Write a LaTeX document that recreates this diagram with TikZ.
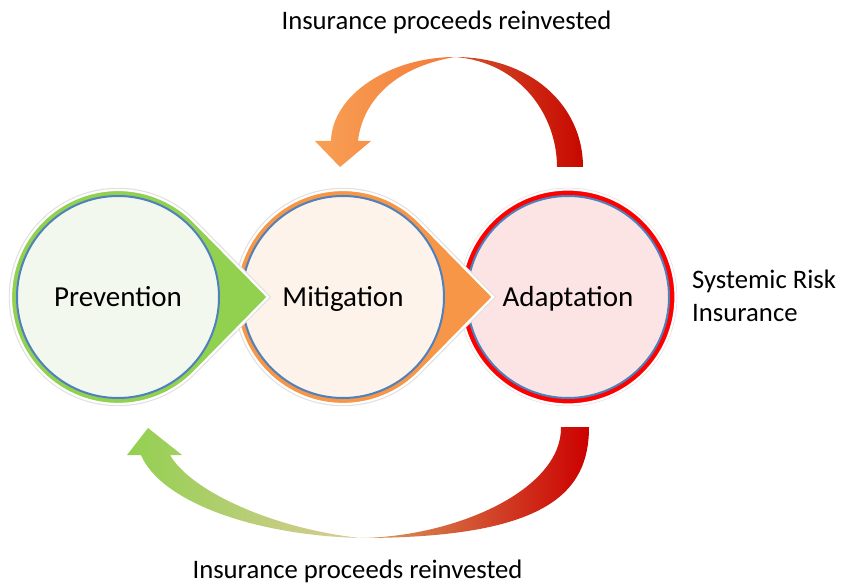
\documentclass[tikz,border=0pt]{standalone}
\usepackage{fontspec}
\setmainfont{Carlito}
\usetikzlibrary{calc}
\definecolor{cgreen}{HTML}{92D050}
\definecolor{corange}{HTML}{F79646}
\definecolor{cred}{HTML}{FF0000}
\definecolor{cblue}{HTML}{4F81BD}
\definecolor{fillP}{HTML}{F3F8EE}
\definecolor{fillM}{HTML}{FDF3EA}
\definecolor{fillA}{HTML}{FCE4E5}
\definecolor{topL}{HTML}{F8A055}
\definecolor{topM}{HTML}{F37A38}
\definecolor{topR1}{HTML}{D2522B}
\definecolor{topR2}{HTML}{C80800}
\definecolor{botL1}{HTML}{92D050}
\definecolor{botL2}{HTML}{B3D68A}
\definecolor{botL3}{HTML}{DCCB98}
\definecolor{botR1}{HTML}{D9A060}
\definecolor{botR2}{HTML}{C9552A}
\definecolor{botR3}{HTML}{CC0000}
\begin{document}
\begin{tikzpicture}[x=1pt,y=1pt,yscale=-1,
  stage/.style={circle, draw=cblue, line width=2pt, minimum size=202pt, inner sep=0pt,
    text height=19pt, text depth=0pt, font=\fontsize{29}{35}\selectfont},
  glow/.style={draw=black!12, line width=4.5pt},
  rim/.style={draw=white, line width=2.2pt},
  lbl/.style={anchor=base, inner sep=0pt, font=\fontsize{26.7}{32}\selectfont}]
\useasboundingbox[fill=white] (0,0) rectangle (841,585);

% top curved arrow
\shade[left color=topL, right color=topM]
  (455,57) .. controls (390,57) and (332,95) .. (331,141) -- (315,141) -- (340,167)
  -- (371,141) -- (358,141) .. controls (362,105) and (390,68) .. (455,57) -- cycle;
\shade[left color=topR1, right color=topR2]
  (455,57) .. controls (530,57) and (583,105) .. (583,167) -- (557,167)
  .. controls (557,115) and (520,62) .. (455,57) -- cycle;

% bottom curved arrow
\shade[left color=botL1, middle color=botL2, right color=botL3]
  (360,538) .. controls (250,535) and (160,500) .. (141,455) -- (127,455) -- (148,428)
  -- (182,455) -- (170,455) .. controls (190,490) and (270,528) .. (360,538) -- cycle;
\shade[left color=botR1, middle color=botR2, right color=botR3]
  (360,538) .. controls (455,537) and (562,490) .. (561,427) -- (589,427)
  .. controls (589,492) and (548,538) .. (360,538) -- cycle;

% Adaptation
\path[glow] (568,297) circle[radius=107];
\path[fill=cred, rim] (568,297) circle[radius=107.5];
\node[stage, fill=fillA] (adapt) at (568,297) {Adaptation};

% Mitigation
\path[glow] (493,297) -- ($(343,297)+(44.5:107)$) arc[start angle=44.5, end angle=315.5, radius=107] -- cycle;
\path[fill=corange, rim] (493,297) -- ($(343,297)+(44.5:107)$) arc[start angle=44.5, end angle=315.5, radius=107] -- cycle;
\node[stage, fill=fillM] (mitig) at (343,297) {Mitigation};

% Prevention
\path[glow] (268,297) -- ($(118,297)+(44.5:107)$) arc[start angle=44.5, end angle=315.5, radius=107] -- cycle;
\path[fill=cgreen, rim] (268,297) -- ($(118,297)+(44.5:107)$) arc[start angle=44.5, end angle=315.5, radius=107] -- cycle;
\node[stage, fill=fillP] (prev) at (118,297) {Prevention};

% labels
\node[lbl] (toplbl) at (446.5,30) {Insurance proceeds reinvested};
\node[lbl] (botlbl) at (357.5,578) {Insurance proceeds reinvested};
\node[lbl, anchor=base west] (sys1) at (692,289) {Systemic Risk};
\node[lbl, anchor=base west] (sys2) at (692,322) {Insurance};
\end{tikzpicture}
\end{document}
